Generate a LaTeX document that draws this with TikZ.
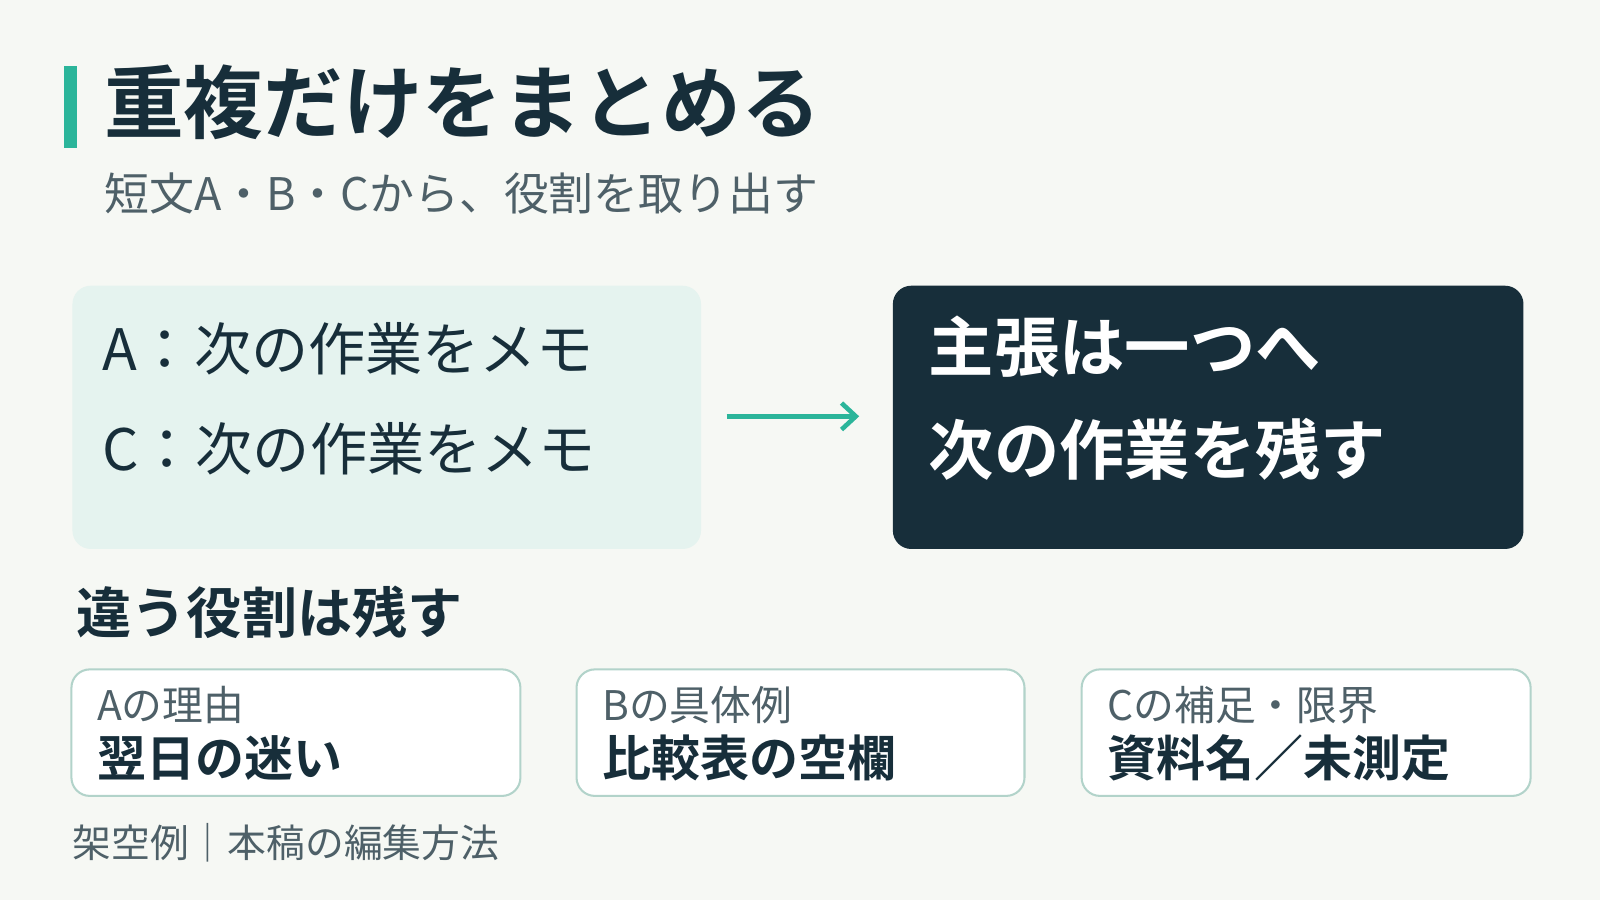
\documentclass[tikz,border=0pt]{standalone}
\usepackage{fontspec}
\setmainfont{Noto Sans CJK JP}[BoldFont={Noto Sans CJK JP Bold}]
\usetikzlibrary{arrows.meta}
\definecolor{bg}{HTML}{F6F8F4}
\definecolor{teal}{HTML}{2BB59A}
\definecolor{dark}{HTML}{172E3A}
\definecolor{gray}{HTML}{4E6068}
\definecolor{mint}{HTML}{E5F3EF}
\definecolor{edge}{HTML}{B2D3CA}
\begin{document}
\begin{tikzpicture}[x=1pt,y=-1pt,
  txt/.style={anchor=west,inner sep=0pt},
  card/.style={draw=edge,line width=2pt,fill=white,rounded corners=18pt},
  small/.style={txt,text=gray,font=\fontsize{40}{44}\selectfont},
  big/.style={txt,text=dark,font=\bfseries\fontsize{48}{52}\selectfont}]
\fill[bg] (0,0) rectangle (1568,882);
\useasboundingbox (0,0) rectangle (1568,882);
\fill[teal] (63,65) rectangle (75,145);
\node[txt,text=dark,font=\bfseries\fontsize{78}{82}\selectfont] (title) at (102,100) {重複だけをまとめる};
\node[txt,text=gray,font=\fontsize{44}{48}\selectfont] (sub) at (102,190) {短文A・B・Cから、役割を取り出す};
\fill[mint,rounded corners=18pt] (71,280) rectangle (687,538);
\node[txt,text=dark,font=\fontsize{56}{60}\selectfont] (a) at (100,342) {A：次の作業をメモ};
\node[txt,text=dark,font=\fontsize{56}{60}\selectfont] (c) at (100,440) {C：次の作業をメモ};
\coordinate (s) at (712,408); \coordinate (e) at (842,408);
\draw[teal,line width=4.5pt,-{Straight Barb[length=14pt,width=26pt]}] (s) -- (e);
\fill[dark,rounded corners=18pt] (875,280) rectangle (1493,538);
\node[txt,text=white,font=\bfseries\fontsize{64}{68}\selectfont] (r1) at (910,340) {主張は一つへ};
\node[txt,text=white,font=\bfseries\fontsize{64}{68}\selectfont] (r2) at (910,440) {次の作業を残す};
\node[txt,text=dark,font=\bfseries\fontsize{54}{58}\selectfont] (keep) at (75,600) {違う役割は残す};
\draw[card] (70,656) rectangle (510,780);
\draw[card] (565,656) rectangle (1004,780);
\draw[card] (1060,656) rectangle (1500,780);
\node[small] (l1) at (95,691) {Aの理由};
\node[big] (b1) at (95,743) {翌日の迷い};
\node[small] (l2) at (590,691) {Bの具体例};
\node[big] (b2) at (590,743) {比較表の空欄};
\node[small] (l3) at (1085,691) {Cの補足・限界};
\node[big] (b3) at (1085,743) {資料名／未測定};
\node[txt,text=gray,font=\fontsize{38}{42}\selectfont] (foot) at (71,826) {架空例｜本稿の編集方法};
\end{tikzpicture}
\end{document}
